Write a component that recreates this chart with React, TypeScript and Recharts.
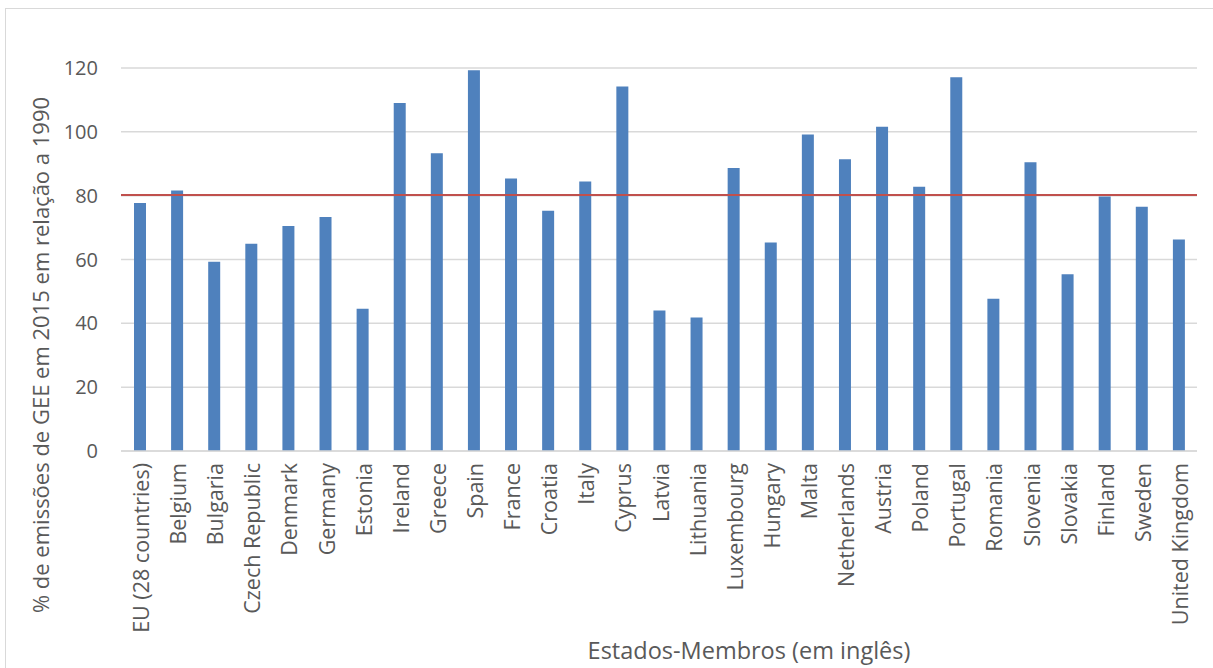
import React from 'react';
import { BarChart, Bar, XAxis, YAxis, CartesianGrid, ReferenceLine } from 'recharts';

// Member states, in the order shown on the category axis
const countries = [
  'EU (28 countries)', 'Belgium', 'Bulgaria', 'Czech Republic', 'Denmark', 'Germany',
  'Estonia', 'Ireland', 'Greece', 'Spain', 'France', 'Croatia', 'Italy', 'Cyprus',
  'Latvia', 'Lithuania', 'Luxembourg', 'Hungary', 'Malta', 'Netherlands', 'Austria',
  'Poland', 'Portugal', 'Romania', 'Slovenia', 'Slovakia', 'Finland', 'Sweden',
  'United Kingdom',
];

// GHG emissions in 2015 as % of 1990
const emissions2015 = [
  77.7, 81.6, 59.3, 64.9, 70.5, 73.3, 44.6, 109.0, 93.3, 119.3, 85.4, 75.3, 84.4, 114.2,
  44.0, 41.8, 88.7, 65.3, 99.2, 91.4, 101.6, 82.8, 117.1, 47.7, 90.5, 55.4, 79.7, 76.5,
  66.3,
];

const yTicks = [0, 20, 40, 60, 80, 100, 120];
const targetLevel = 80.2;

const FONT = '"Open Sans", sans-serif';
const TEXT = '#595959';

const data = countries.map((name, i) => ({ name, value: emissions2015[i] }));

const CountryTick = (props: any) => {
  const { x, y, payload } = props;
  const cx = x + 1;
  return (
    <text
      x={cx}
      y={y}
      transform={`rotate(-90, ${cx}, ${y})`}
      textAnchor="end"
      dominantBaseline="central"
      fill={TEXT}
      fontSize={21.5}
      fontFamily={FONT}
    >
      {payload.value}
    </text>
  );
};

export default function App() {
  return (
    <div style={{ position: 'relative', width: 1213, height: 668, background: '#fff' }}>
      <style>{`body { margin: 0; overflow: hidden; }`}</style>
      <div
        style={{
          position: 'absolute',
          left: 5,
          top: 8,
          width: 1207,
          height: 700,
          border: '1.5px solid #d9d9d9',
          borderBottom: 'none',
          borderRight: 'none',
        }}
      />
      <BarChart
        width={1213}
        height={668}
        data={data}
        margin={{ top: 68, right: 16, bottom: 17, left: 0 }}
        style={{ position: 'absolute', left: 0, top: 0 }}
      >
        <CartesianGrid vertical={false} stroke="#d9d9d9" strokeWidth={1.5} />
        <XAxis
          dataKey="name"
          interval={0}
          height={200}
          tickLine={false}
          tickSize={0}
          tickMargin={12}
          axisLine={{ stroke: '#d9d9d9', strokeWidth: 1.5 }}
          tick={<CountryTick />}
          label={{
            content: () => (
              <text
                x={749}
                y={650}
                textAnchor="middle"
                dominantBaseline="central"
                fill={TEXT}
                fontSize={23.5}
                fontFamily={FONT}
              >
                Estados-Membros (em inglês)
              </text>
            ),
          }}
        />
        <YAxis
          width={121}
          domain={[0, 120]}
          ticks={yTicks}
          tickLine={false}
          tickSize={0}
          tickMargin={23}
          axisLine={false}
          tick={{ fill: TEXT, fontSize: 20, fontFamily: FONT }}
          label={{
            content: () => (
              <text
                x={40}
                y={355}
                transform="rotate(-90, 40, 355)"
                textAnchor="middle"
                dominantBaseline="central"
                fill={TEXT}
                fontSize={22}
                fontFamily={FONT}
              >
                % de emissões de GEE em 2015 em relação a 1990
              </text>
            ),
          }}
        />
        <Bar dataKey="value" fill="#4f81bd" barSize={12} isAnimationActive={false} />
        <ReferenceLine y={targetLevel} stroke="#c0504d" strokeWidth={2} />
      </BarChart>
    </div>
  );
}
